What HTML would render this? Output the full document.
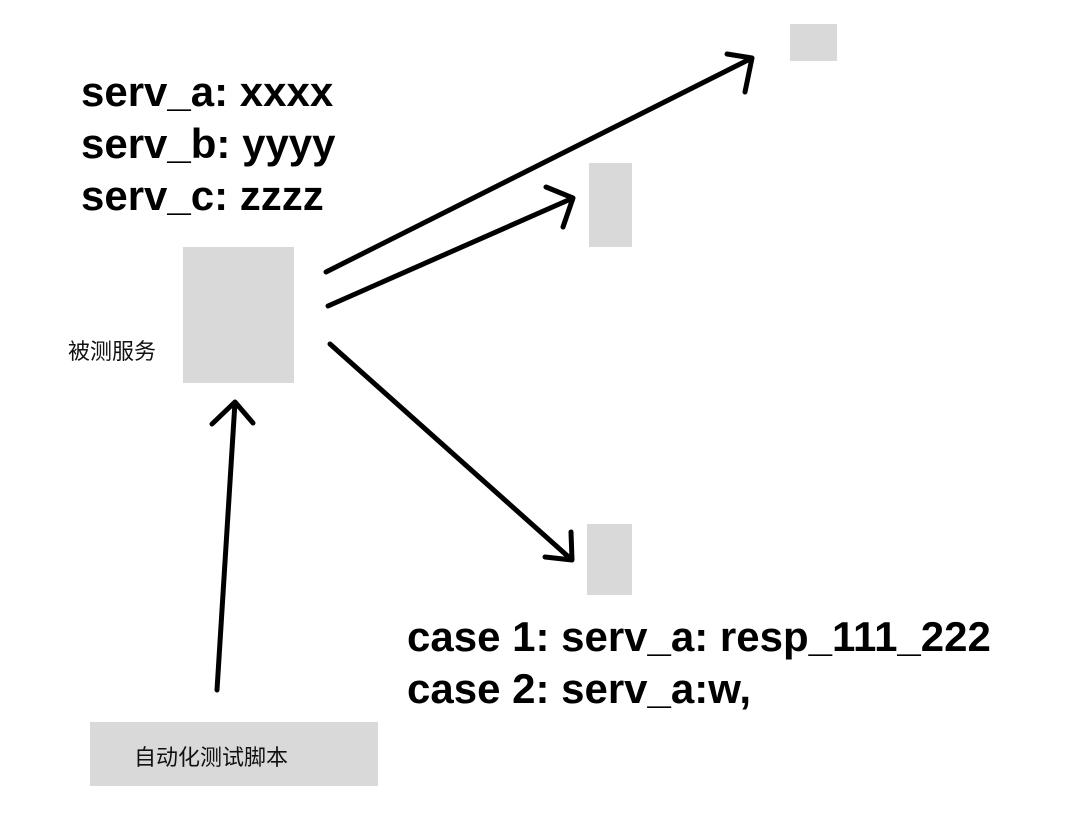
<!DOCTYPE html>
<html><head><meta charset="utf-8"><style>
html,body{margin:0;padding:0;background:#fff;}
body{width:1080px;height:824px;position:relative;overflow:hidden;font-family:"Liberation Sans","Noto Sans CJK SC",sans-serif;}
.r{position:absolute;background:#d9d9d9;}
.t{position:absolute;font-weight:bold;font-size:42px;color:#000;white-space:nowrap;line-height:52px;}
.c{position:absolute;font-size:22px;color:#111;white-space:nowrap;}
</style></head><body>
<div class="t" style="left:81px;top:66px;">serv_a: xxxx<br>serv_b: yyyy<br>serv_c: zzzz</div>
<div class="r" style="left:183px;top:247px;width:111px;height:136px;"></div>
<div class="r" style="left:790px;top:24px;width:47px;height:37px;"></div>
<div class="r" style="left:589px;top:163px;width:43px;height:84px;"></div>
<div class="r" style="left:587px;top:524px;width:45px;height:71px;"></div>
<div class="r" style="left:90px;top:722px;width:288px;height:64px;"></div>
<div class="c" style="left:68px;top:334px;">被测服务</div>
<div class="c" style="left:134px;top:740px;">自动化测试脚本</div>
<div class="t" style="left:407px;top:611px;">case 1: serv_a: resp_111_222<br>case 2: serv_a:w,</div>
<svg width="1080" height="824" style="position:absolute;left:0;top:0" fill="none" stroke="#000" stroke-width="5" stroke-linecap="round" stroke-linejoin="round">
<path d="M326 272 L752 58 M727 54 L752 58 L745 92"/>
<path d="M328 306 L573 198 M546 187 L573 198 L563 227"/>
<path d="M330 344 L572 560 M545 557 L572 560 L571 532"/>
<path d="M217 690 L235 402 M212 424 L235 402 L253 423"/>
</svg>
</body></html>
